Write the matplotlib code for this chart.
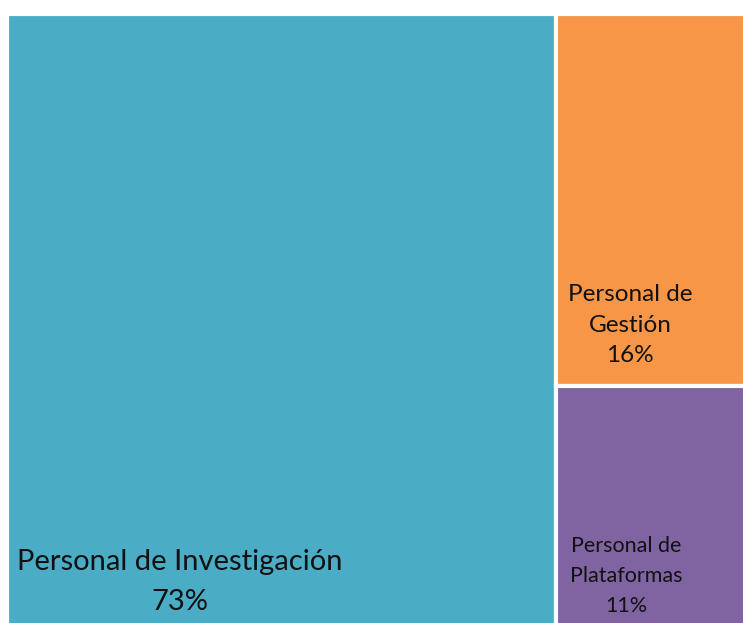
import matplotlib.pyplot as plt
from matplotlib.patches import Rectangle

labels = ['Personal de Investigación', 'Personal de\nGestión', 'Personal de\nPlataformas']
values = [73, 16, 11]
colors = ['#4BACC6', '#F79646', '#8064A2']

W, H = 743, 623
fig = plt.figure(figsize=(W / 100, H / 100), dpi=100)
# treemap area runs a little past the right and bottom edges of the image
ax = fig.add_axes([7 / W, (H - 641) / H, 752 / W, 627 / H])
ax.set_xlim(0, sum(values))
ax.set_ylim(0, 1)
ax.axis('off')

# simple slice-and-dice: first item takes a column, rest share the remaining column
rest = sum(values[1:])
rects = [(0, 0, values[0], 1)]
y_top = 1.0
for v in values[1:]:
    h = v / rest
    rects.append((values[0], y_top - h, rest, h))
    y_top -= h

for (x, y, w, h), c in zip(rects, colors):
    ax.add_patch(Rectangle((x, y), w, h, facecolor=c, edgecolor='white', linewidth=3))

font = 'Lato'
fig.text(180 / W, 1 - 582 / H, labels[0] + '\n%d%%' % values[0], ha='center', va='center',
         fontsize=21, family=font, linespacing=1.62, color='#111111')
fig.text(630 / W, 1 - 325 / H, labels[1] + '\n%d%%' % values[1], ha='center', va='center',
         fontsize=17.5, family=font, linespacing=1.54, color='#111111')
fig.text(626 / W, 1 - 576 / H, labels[2] + '\n%d%%' % values[2], ha='center', va='center',
         fontsize=15.5, family=font, linespacing=1.6, color='#111111')

fig.savefig('out.png', dpi=100)
